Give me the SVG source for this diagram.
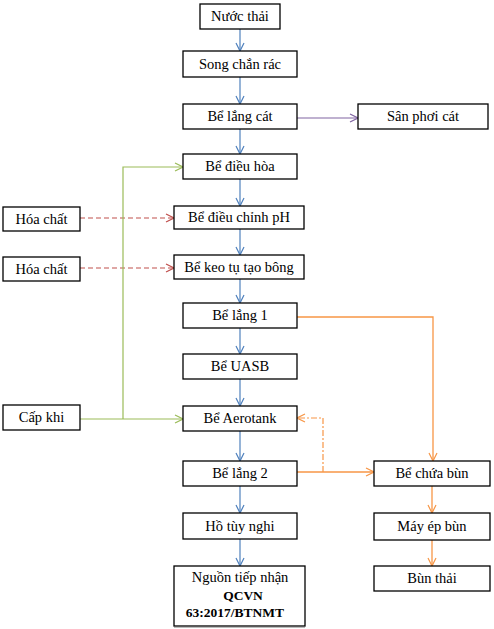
<svg xmlns="http://www.w3.org/2000/svg" width="494" height="629" viewBox="0 0 494 629">
<defs>
<style>
.box{fill:#fff;stroke:#000;stroke-width:1.3}
text{font-family:"Liberation Serif","Times New Roman",serif;font-size:14.5px;fill:#000;text-anchor:middle}
.b{font-weight:bold;font-size:13.5px}
.blue{stroke:#4F81BD;stroke-width:1.2;fill:none}
.green{stroke:#9BBB59;stroke-width:1.2;fill:none}
.red{stroke:#C0504D;stroke-width:1.2;fill:none;stroke-dasharray:5,3}
.orange{stroke:#F79646;stroke-width:1.3;fill:none}
.orangedd{stroke:#F79646;stroke-width:1.2;fill:none;stroke-dasharray:6,2,2,2}
.purple{stroke:#8064A2;stroke-width:1.2;fill:none}
</style>
<marker id="ab" markerWidth="10" markerHeight="10" refX="9" refY="5" orient="auto" markerUnits="userSpaceOnUse"><path d="M1,1 L9,5 L1,9" fill="none" stroke="#4F81BD" stroke-width="1.2"/></marker>
<marker id="ag" markerWidth="10" markerHeight="10" refX="9" refY="5" orient="auto" markerUnits="userSpaceOnUse"><path d="M1,1 L9,5 L1,9" fill="none" stroke="#9BBB59" stroke-width="1.2"/></marker>
<marker id="ar" markerWidth="10" markerHeight="10" refX="9" refY="5" orient="auto" markerUnits="userSpaceOnUse"><path d="M1,1 L9,5 L1,9" fill="none" stroke="#C0504D" stroke-width="1.2"/></marker>
<marker id="ao" markerWidth="10" markerHeight="10" refX="9" refY="5" orient="auto" markerUnits="userSpaceOnUse"><path d="M1,1 L9,5 L1,9" fill="none" stroke="#F79646" stroke-width="1.2"/></marker>
<marker id="ap" markerWidth="10" markerHeight="10" refX="9" refY="5" orient="auto" markerUnits="userSpaceOnUse"><path d="M1,1 L9,5 L1,9" fill="none" stroke="#8064A2" stroke-width="1.2"/></marker>
</defs>
<rect width="494" height="629" fill="#fff"/>
<g id="connectors">
<line class="blue" x1="240" y1="29" x2="240" y2="51" marker-end="url(#ab)"/>
<line class="blue" x1="240" y1="77" x2="240" y2="104" marker-end="url(#ab)"/>
<line class="blue" x1="240" y1="129" x2="240" y2="154" marker-end="url(#ab)"/>
<line class="blue" x1="240" y1="179" x2="240" y2="206" marker-end="url(#ab)"/>
<line class="blue" x1="240" y1="229" x2="240" y2="255" marker-end="url(#ab)"/>
<line class="blue" x1="240" y1="279" x2="240" y2="303" marker-end="url(#ab)"/>
<line class="blue" x1="240" y1="328" x2="240" y2="354" marker-end="url(#ab)"/>
<line class="blue" x1="240" y1="379" x2="240" y2="406" marker-end="url(#ab)"/>
<line class="blue" x1="240" y1="431" x2="240" y2="461" marker-end="url(#ab)"/>
<line class="blue" x1="240" y1="486" x2="240" y2="513" marker-end="url(#ab)"/>
<line class="blue" x1="240" y1="539" x2="240" y2="566" marker-end="url(#ab)"/>
<line class="purple" x1="297" y1="118" x2="358" y2="118" marker-end="url(#ap)"/>
<line class="red" x1="80" y1="218" x2="174" y2="218" marker-end="url(#ar)"/>
<line class="red" x1="80" y1="268" x2="174" y2="268" marker-end="url(#ar)"/>
<line class="green" x1="80" y1="419" x2="183" y2="419" marker-end="url(#ag)"/>
<polyline class="green" points="123,419 123,167 183,167" marker-end="url(#ag)"/>
<polyline class="orange" points="297,317 433,317 433,461" marker-end="url(#ao)"/>
<line class="orange" x1="297" y1="472" x2="374" y2="472" marker-end="url(#ao)"/>
<polyline class="orangedd" points="323,472 323,418 297,418" marker-end="url(#ao)"/>
<line class="orange" x1="432" y1="486" x2="432" y2="513" marker-end="url(#ao)"/>
<line class="orange" x1="432" y1="540" x2="432" y2="566" marker-end="url(#ao)"/>
</g>
<g id="nuoc-thai"><rect class="box" x="200" y="4" width="80" height="25"/><text x="240" y="21">Nước thải</text></g>
<g id="song-chan-rac"><rect class="box" x="183" y="51" width="114" height="26"/><text x="240" y="69">Song chắn rác</text></g>
<g id="be-lang-cat"><rect class="box" x="183" y="104" width="114" height="25"/><text x="240" y="121">Bể lắng cát</text></g>
<g id="san-phoi-cat"><rect class="box" x="358" y="104" width="130" height="25"/><text x="423" y="121">Sân phơi cát</text></g>
<g id="be-dieu-hoa"><rect class="box" x="183" y="154" width="114" height="25"/><text x="240" y="171">Bể điều hòa</text></g>
<g id="hoa-chat-1"><rect class="box" x="3" y="207" width="77" height="24"/><text x="41.5" y="224">Hóa chất</text></g>
<g id="be-dieu-chinh-ph"><rect class="box" x="174" y="206" width="130" height="23"/><text x="239" y="222">Bể điều chỉnh pH</text></g>
<g id="hoa-chat-2"><rect class="box" x="3" y="257" width="77" height="24"/><text x="41.5" y="274">Hóa chất</text></g>
<g id="be-keo-tu"><rect class="box" x="174" y="255" width="130" height="24"/><text x="239" y="272">Bể keo tụ tạo bông</text></g>
<g id="be-lang-1"><rect class="box" x="183" y="303" width="114" height="25"/><text x="240" y="320">Bể lắng 1</text></g>
<g id="be-uasb"><rect class="box" x="183" y="354" width="114" height="25"/><text x="240" y="371">Bể UASB</text></g>
<g id="cap-khi"><rect class="box" x="3" y="405" width="77" height="25"/><text x="41.5" y="422">Cấp khi</text></g>
<g id="be-aerotank"><rect class="box" x="183" y="406" width="114" height="25"/><text x="240" y="423">Bể Aerotank</text></g>
<g id="be-lang-2"><rect class="box" x="183" y="461" width="114" height="25"/><text x="240" y="478">Bể lắng 2</text></g>
<g id="be-chua-bun"><rect class="box" x="374" y="461" width="116" height="25"/><text x="432" y="478">Bể chứa bùn</text></g>
<g id="ho-tuy-nghi"><rect class="box" x="183" y="513" width="114" height="26"/><text x="240" y="531">Hồ tùy nghi</text></g>
<g id="may-ep-bun"><rect class="box" x="374" y="513" width="116" height="27"/><text x="432" y="531">Máy ép bùn</text></g>
<g id="nguon-tiep-nhan"><rect class="box" x="174" y="566" width="131" height="60"/><line x1="174" y1="627.5" x2="305" y2="627.5" stroke="#bbb" stroke-width="1"/><text x="240" y="582">Nguồn tiếp nhận</text><text class="b" x="243" y="600">QCVN</text><text class="b" x="235" y="617">63:2017/BTNMT</text></g>
<g id="bun-thai"><rect class="box" x="374" y="566" width="116" height="25"/><text x="432" y="583">Bùn thải</text></g>
</svg>
